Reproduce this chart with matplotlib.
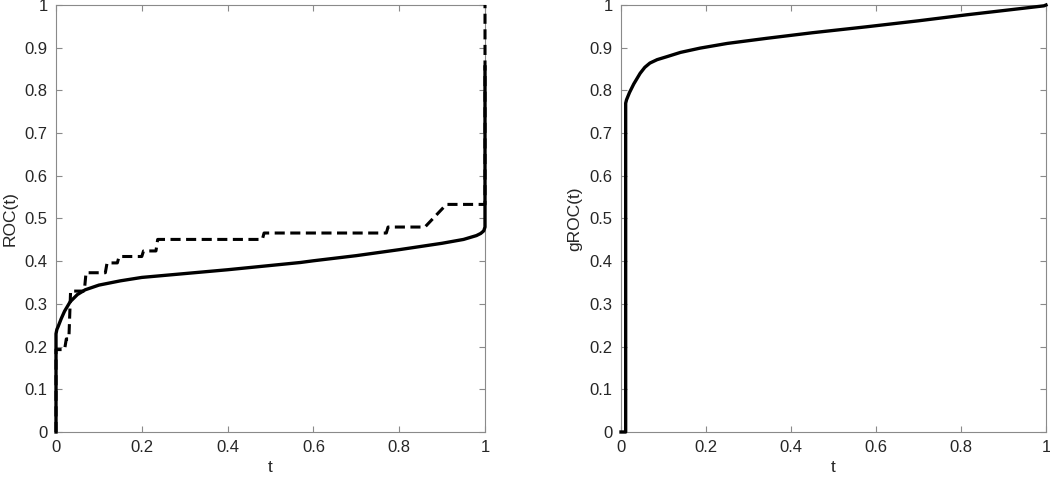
import matplotlib
matplotlib.use("Agg")
import matplotlib.pyplot as plt
from matplotlib.ticker import FormatStrFormatter, MultipleLocator

plt.rcParams["font.family"] = ["Liberation Sans", "DejaVu Sans"]

# left panel: smooth ROC estimate (solid)
roc_t = [0.0, 0.0, 0.002, 0.005, 0.012, 0.02, 0.033, 0.05, 0.068, 0.1, 0.15,
         0.2, 0.3, 0.4, 0.5, 0.57, 0.6, 0.7, 0.8, 0.9, 0.95, 0.98, 0.99, 0.997, 1.0, 1.0]
roc_y = [0.0, 0.23, 0.24, 0.247, 0.265, 0.283, 0.305, 0.322, 0.333, 0.344, 0.354,
         0.362, 0.371, 0.38, 0.39, 0.397, 0.401, 0.413, 0.427, 0.442, 0.451, 0.46,
         0.465, 0.471, 0.48, 0.855]

# left panel: empirical ROC (dashed)
emp_t = [0.0, 0.0, 0.02, 0.024, 0.03, 0.034, 0.066, 0.07, 0.115, 0.119, 0.143, 0.147,
         0.2, 0.204, 0.233, 0.237, 0.481, 0.485, 0.77, 0.774, 0.86, 0.91, 0.985, 1.0, 1.0]
emp_y = [0.0, 0.193, 0.193, 0.218, 0.218, 0.33, 0.33, 0.373, 0.373, 0.396, 0.396, 0.411,
         0.411, 0.424, 0.424, 0.451, 0.451, 0.466, 0.466, 0.48, 0.48, 0.533, 0.533, 0.533, 1.0]

# right panel: gROC
groc_t = [0.0, 0.011, 0.011, 0.013, 0.02, 0.03, 0.045, 0.056, 0.068, 0.085, 0.108,
          0.14, 0.186, 0.25, 0.343, 0.45, 0.578, 0.7, 0.813, 0.9, 0.995, 1.0]
groc_y = [0.0, 0.0, 0.77, 0.778, 0.795, 0.815, 0.84, 0.854, 0.864, 0.872, 0.879,
          0.889, 0.899, 0.91, 0.922, 0.935, 0.949, 0.963, 0.977, 0.987, 0.998, 1.0]

TEXT_COLOR = "#262626"
AXIS_COLOR = "#8a8a8a"


def style_axes(ax, ylabel):
    ax.set_xlim(0, 1)
    ax.set_ylim(0, 1)
    ax.xaxis.set_major_locator(MultipleLocator(0.2))
    ax.yaxis.set_major_locator(MultipleLocator(0.1))
    ax.xaxis.set_major_formatter(FormatStrFormatter("%g"))
    ax.yaxis.set_major_formatter(FormatStrFormatter("%g"))
    ax.tick_params(direction="in", length=4, width=0.8, color=AXIS_COLOR,
                   labelcolor=TEXT_COLOR, labelsize=12, top=True, right=True, pad=6)
    for spine in ax.spines.values():
        spine.set_color(AXIS_COLOR)
        spine.set_linewidth(0.8)
    ax.set_xlabel("t", fontsize=12.5, color=TEXT_COLOR, labelpad=3)
    ax.set_ylabel(ylabel, fontsize=12.5, color=TEXT_COLOR, labelpad=5)


fig = plt.figure(figsize=(10.5, 4.83), dpi=100)
ax1 = fig.add_axes([56 / 1050, 1 - 432 / 483, 429 / 1050, 427 / 483])
ax2 = fig.add_axes([621 / 1050, 1 - 432 / 483, 425 / 1050, 427 / 483])

ax1.plot(emp_t, emp_y, color="black", lw=2.2, linestyle=(0, (3.3, 1.8)),
         clip_on=False, zorder=3)
ax1.plot(roc_t, roc_y, color="black", lw=2.4, clip_on=False, zorder=3)
style_axes(ax1, "ROC(t)")

ax2.plot(groc_t, groc_y, color="black", lw=2.4, clip_on=False, zorder=3)
style_axes(ax2, "gROC(t)")

fig.savefig("out.png", dpi=100)
